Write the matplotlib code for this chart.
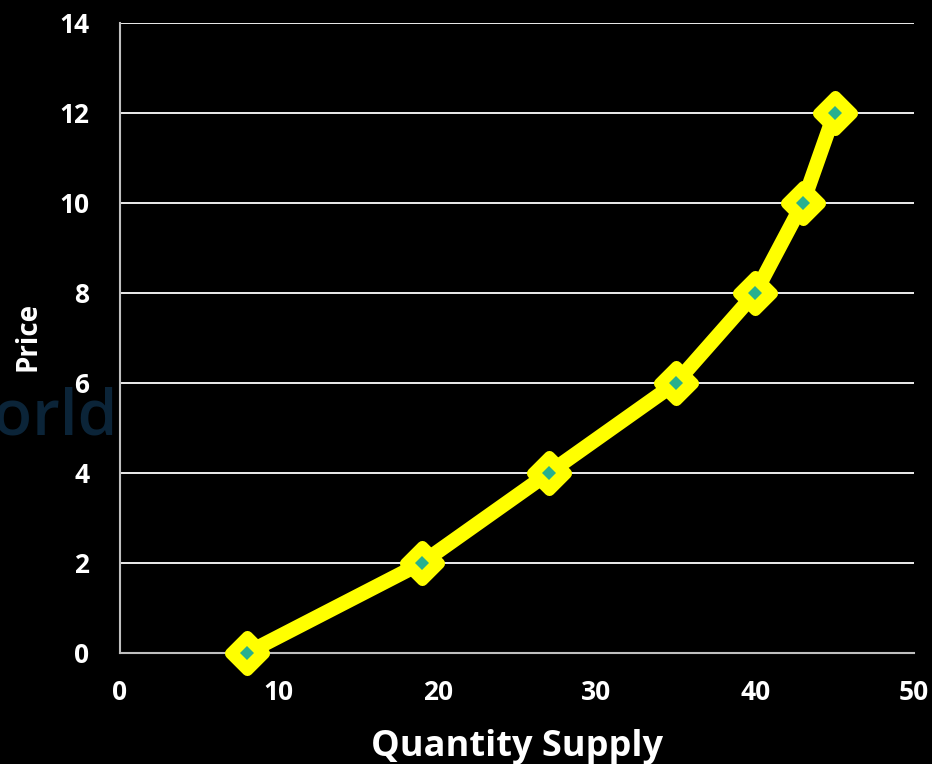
import matplotlib.pyplot as plt
from matplotlib.markers import MarkerStyle

quantity = [8, 19, 27, 35, 40, 43, 45]
price = [0, 2, 4, 6, 8, 10, 12]
x_ticks = [0, 10, 20, 30, 40, 50]
y_ticks = [0, 2, 4, 6, 8, 10, 12, 14]

plt.rcParams['font.family'] = ['Open Sans', 'DejaVu Sans']
plt.rcParams['font.weight'] = 'bold'

fig = plt.figure(figsize=(9.32, 7.64), dpi=100, facecolor='black')

# faint logo text sitting behind the axes on the left
fig.text(-0.07, 0.453, "World", color='#0b2438', fontsize=46, fontweight='semibold',
         ha='left', va='center', zorder=-1)

ax = fig.add_axes([0.1288, 0.1453, 0.9807 - 0.1288, 0.9699 - 0.1453])
ax.set_zorder(1)
ax.set_facecolor('black')
ax.set_xlim(0, 50)
ax.set_ylim(0, 14)
ax.set_xticks(x_ticks)
ax.set_yticks(y_ticks)
ax.tick_params(axis='y', length=0, colors='white', labelsize=19, pad=22)
ax.tick_params(axis='x', length=0, colors='white', labelsize=19, pad=19)
for lab in ax.get_xticklabels() + ax.get_yticklabels():
    lab.set_fontweight('bold')

ax.grid(axis='y', color='white', linewidth=1.3)
ax.set_axisbelow(True)
for side in ['top', 'right']:
    ax.spines[side].set_visible(False)
for side in ['left', 'bottom']:
    ax.spines[side].set_color('#bfbfbf')
    ax.spines[side].set_linewidth(1.5)

diamond = MarkerStyle('D', joinstyle='round')
ax.plot(quantity, price, color='#ffff00', linewidth=10.5, solid_joinstyle='round',
        solid_capstyle='round', marker=diamond, markersize=17, markerfacecolor='#ffff00',
        markeredgecolor='#ffff00', markeredgewidth=8, clip_on=False, zorder=3)
ax.plot(quantity, price, linestyle='none', marker='D', markersize=7,
        markerfacecolor='#27b08e', markeredgewidth=0, clip_on=False, zorder=4)

ax.set_xlabel("Quantity Supply", color='white', fontsize=26, fontweight='bold')
ax.set_ylabel("Price", color='white', fontsize=20, fontweight='bold')
ax.xaxis.set_label_coords(0.5, -0.12)
ax.yaxis.set_label_coords(-0.098, 0.502)

fig.savefig('out.png', dpi=100, facecolor='black')
